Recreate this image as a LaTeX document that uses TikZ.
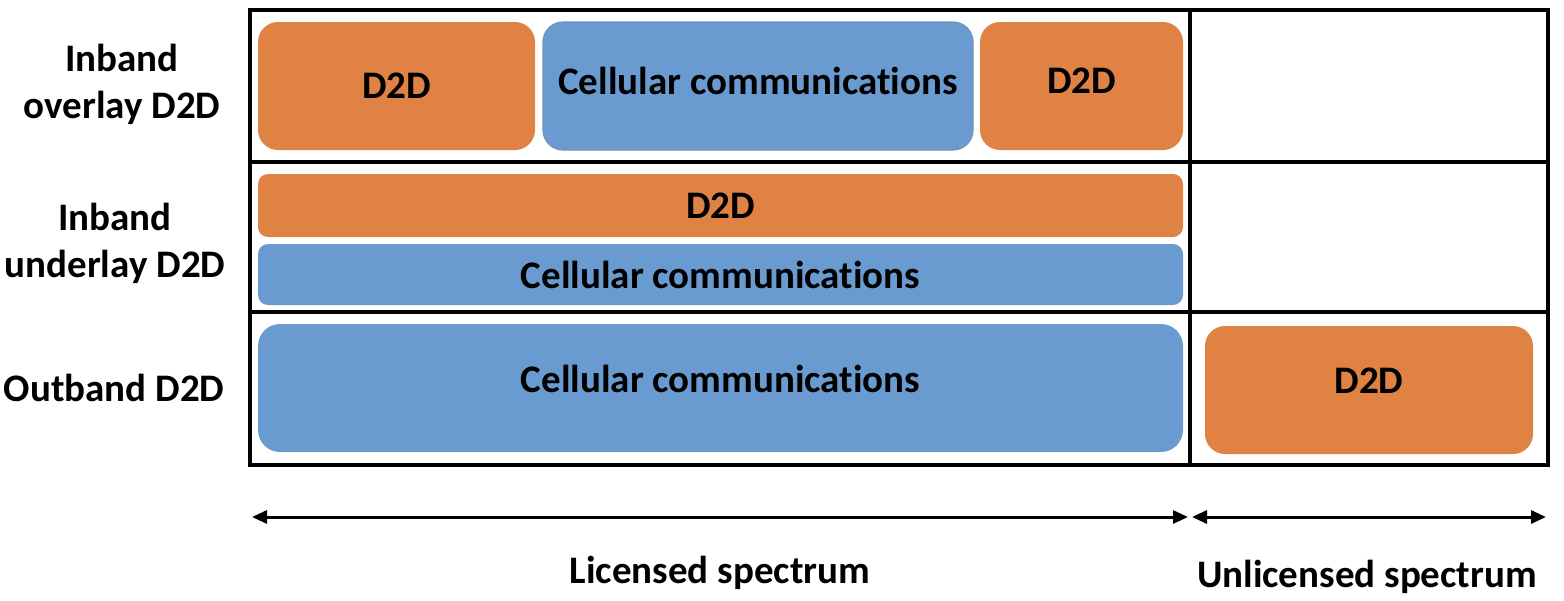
\documentclass[tikz,border=0pt]{standalone}
\usepackage{fontspec}
\setmainfont{Carlito}[Ligatures=NoCommon]
\usetikzlibrary{arrows.meta}
\definecolor{dorange}{RGB}{223,130,68}
\definecolor{cblue}{RGB}{105,155,208}
\tikzset{
    band/.style={rounded corners=20pt, inner sep=0pt, font=\fontsize{39}{47}\selectfont\bfseries},
    d2d/.style={band, fill=dorange},
    cell/.style={band, fill=cblue},
    rowlabel/.style={align=center, font=\fontsize{39}{47}\selectfont\bfseries},
    spec/.style={line width=3pt, {Triangle[length=15pt,width=13pt]}-{Triangle[length=15pt,width=13pt]}}
}

\begin{document}
\begin{tikzpicture}[x=1pt,y=-1pt]
    \useasboundingbox (0,0) rectangle (1564,600);
    % frame
    \draw[line width=4pt] (250,10) rectangle (1548,465);
    \draw[line width=4pt] (1190,10) -- (1190,465);
    \draw[line width=4pt] (250,162) -- (1548,162);
    \draw[line width=4pt] (250,312) -- (1548,312);
    % inband overlay
    \node[d2d, minimum width=277pt, minimum height=128pt] (ovl) at (396.5,86) {D2D};
    \node[cell, text depth=11pt, draw=cblue!70!gray, line width=1.2pt, minimum width=430pt, minimum height=128pt] (ovc) at (758,86) {Cellular communications};
    \node[d2d, text depth=10pt, minimum width=203pt, minimum height=128pt] (ovr) at (1081.5,86) {D2D};
    % inband underlay
    \node[d2d, rounded corners=10pt, minimum width=925pt, minimum height=63pt] (und) at (720.5,205.5) {D2D};
    \node[cell, rounded corners=10pt, minimum width=925pt, minimum height=61pt] (unc) at (720.5,274.5) {Cellular communications};
    % outband
    \node[cell, text depth=18pt, rounded corners=22pt, minimum width=925pt, minimum height=128pt] (obc) at (720.5,388) {Cellular communications};
    \node[d2d, text depth=18pt, minimum width=328pt, minimum height=128pt] (obd) at (1369,390) {D2D};
    % row labels
    \node[rowlabel] (lov) at (122,84) {Inband\\overlay D2D};
    \node[rowlabel] (lun) at (115,243) {Inband\\underlay D2D};
    \node[rowlabel] (lob) at (114,388) {Outband D2D};
    % spectrum
    \coordinate (lic1) at (252,517);
    \coordinate (lic2) at (1188,517);
    \coordinate (unl1) at (1192,517);
    \coordinate (unl2) at (1546,517);
    \draw[spec] (lic1) -- (lic2);
    \draw[spec] (unl1) -- (unl2);
    \node[rowlabel] (llic) at (720,573) {Licensed spectrum};
    \node[rowlabel] (lunl) at (1367,577) {Unlicensed spectrum};
\end{tikzpicture}
\end{document}
